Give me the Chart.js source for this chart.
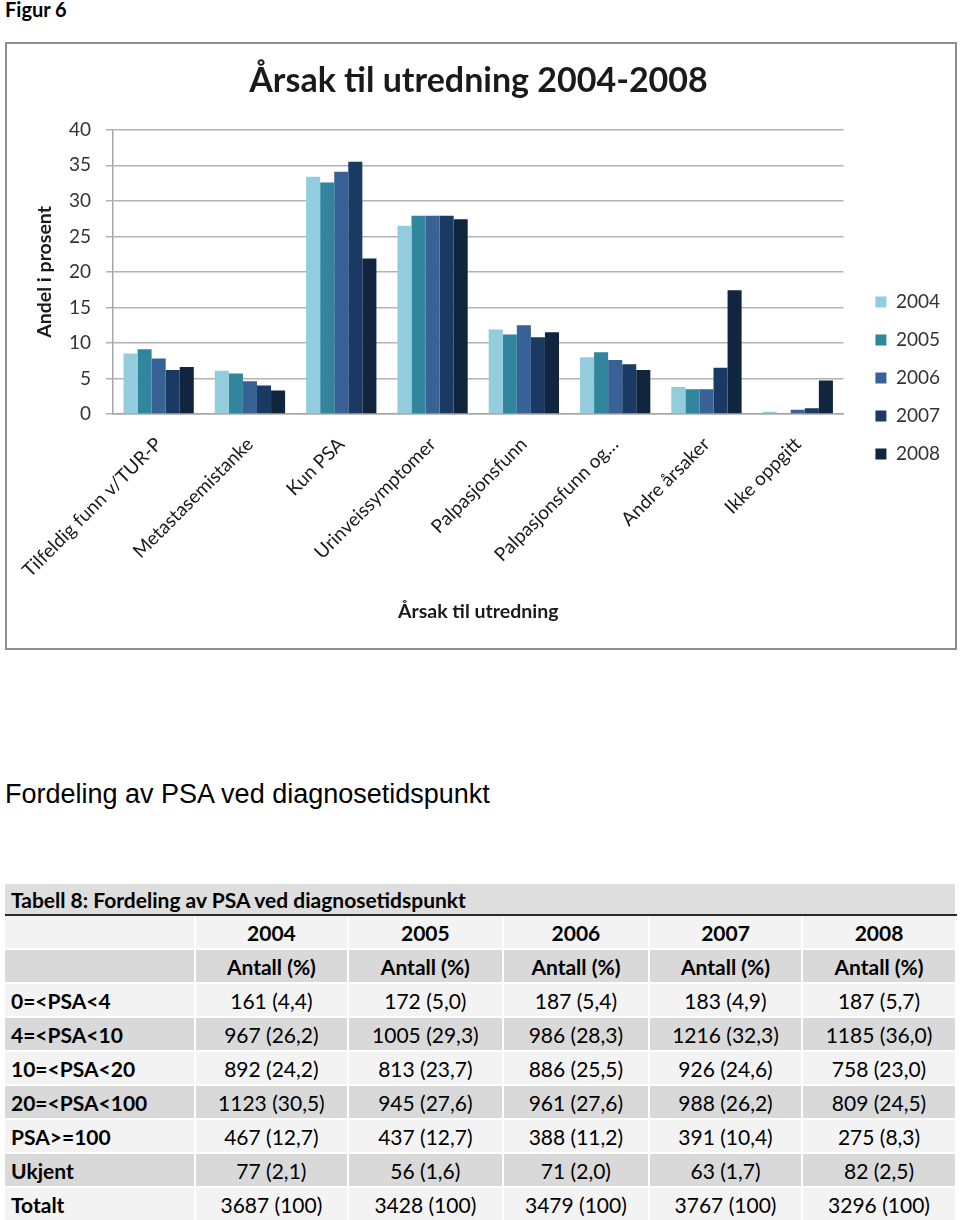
<!DOCTYPE html>
<html>
<head>
<meta charset="utf-8">
<script src="https://cdn.jsdelivr.net/npm/chart.js@4"></script>
<style>
  body { margin: 0; background: #fff; width: 960px; height: 1220px; position: relative; overflow: hidden; font-family: Lato, sans-serif; color: #000; }
  #fig { position: absolute; left: 5px; top: -3px; font-weight: bold; font-size: 20px; }
  #box { position: absolute; left: 5px; top: 42px; width: 948px; height: 604px; border: 2px solid #8e8e8e; }
  #box canvas { display: block; }
  #heading { position: absolute; left: 5px; top: 779px; font-family: "Liberation Sans", Arial, sans-serif; font-size: 27px; }
  table { position: absolute; left: 5px; top: 884px; width: 952px; border-collapse: collapse; font-size: 21px; }
  td { height: 32px; padding: 0; text-align: center; border-left: 2px solid #fff; border-right: 2px solid #fff; border-top: 2px solid #fff; white-space: nowrap; }
  td:first-child { text-align: left; padding-left: 6px; font-weight: bold; border-left: none; }
  tr.title td { text-align: left; font-weight: bold; background: #dedede; border-bottom: 2px solid #2a2a2a; border-top: none; height: 30px; }
  tr.light td { background: #f3f3f3; }
  tr.dark td { background: #d9d9d9; }
  tr.head td { font-weight: bold; }
</style>
</head>
<body>
<div id="fig">Figur 6</div>
<div id="box"><canvas id="chart" width="948" height="604"></canvas></div>
<div id="heading">Fordeling av PSA ved diagnosetidspunkt</div>
<table id="tbl"></table>

<script>
// Chart data (percent)
const categories = ['Tilfeldig funn v/TUR-P', 'Metastasemistanke', 'Kun PSA', 'Urinveissymptomer',
  'Palpasjonsfunn', 'Palpasjonsfunn og…', 'Andre årsaker', 'Ikke oppgitt'];
const years = ['2004', '2005', '2006', '2007', '2008'];
const values2004 = [8.5, 6.1, 33.4, 26.5, 11.9, 8.0, 3.8, 0.3];
const values2005 = [9.1, 5.7, 32.6, 27.9, 11.2, 8.7, 3.5, 0];
const values2006 = [7.8, 4.6, 34.1, 27.9, 12.5, 7.6, 3.5, 0.6];
const values2007 = [6.2, 4.0, 35.5, 27.9, 10.8, 7.0, 6.5, 0.8];
const values2008 = [6.6, 3.3, 21.9, 27.4, 11.5, 6.2, 17.4, 4.7];
const colors = ['#93cddd', '#31859c', '#386195', '#1a3a63', '#11253f'];

// Table 8 data
const tableTitle = 'Tabell 8: Fordeling av PSA ved diagnosetidspunkt';
const psaGroups = ['0=<PSA<4', '4=<PSA<10', '10=<PSA<20', '20=<PSA<100', 'PSA>=100', 'Ukjent', 'Totalt'];
const psa2004 = ['161 (4,4)', '967 (26,2)', '892 (24,2)', '1123 (30,5)', '467 (12,7)', '77 (2,1)', '3687 (100)'];
const psa2005 = ['172 (5,0)', '1005 (29,3)', '813 (23,7)', '945 (27,6)', '437 (12,7)', '56 (1,6)', '3428 (100)'];
const psa2006 = ['187 (5,4)', '986 (28,3)', '886 (25,5)', '961 (27,6)', '388 (11,2)', '71 (2,0)', '3479 (100)'];
const psa2007 = ['183 (4,9)', '1216 (32,3)', '926 (24,6)', '988 (26,2)', '391 (10,4)', '63 (1,7)', '3767 (100)'];
const psa2008 = ['187 (5,7)', '1185 (36,0)', '758 (23,0)', '809 (24,5)', '275 (8,3)', '82 (2,5)', '3296 (100)'];

// Build table
const colWidths = [186, 154, 156, 147, 154, 155];
const cols = [psa2004, psa2005, psa2006, psa2007, psa2008];
const tbl = document.getElementById('tbl');

function addRow(cls, cells) {
  const tr = document.createElement('tr');
  tr.className = cls;
  cells.forEach((txt, i) => {
    const td = document.createElement('td');
    td.textContent = txt;
    if (cls.includes('title')) td.colSpan = 6;
    if (cls.includes('first')) td.style.width = colWidths[i] + 'px';
    tr.appendChild(td);
  });
  tbl.appendChild(tr);
}

addRow('title', [tableTitle]);
addRow('light head first', [''].concat(years));
addRow('dark head', [''].concat(years.map(() => 'Antall (%)')));
psaGroups.forEach((g, r) => {
  addRow(r % 2 ? 'dark' : 'light', [g].concat(cols.map(c => c[r])));
});

// Chart
const allValues = [values2004, values2005, values2006, values2007, values2008];
new Chart(document.getElementById('chart'), {
  type: 'bar',
  data: {
    labels: categories,
    datasets: years.map((y, i) => ({
      label: y,
      data: allValues[i],
      backgroundColor: colors[i],
      borderWidth: 0,
      barPercentage: 1,
      categoryPercentage: 0.77
    }))
  },
  options: {
    responsive: false,
    animation: false,
    layout: { padding: { left: 0, right: 5, top: 0, bottom: 12 } },
    plugins: {
      title: {
        display: true,
        text: 'Årsak til utredning 2004-2008',
        color: '#1a1a1a',
        font: { family: 'Lato', size: 34, weight: 'bold' },
        padding: { top: 17, bottom: 28 }
      },
      legend: {
        position: 'right',
        // empty title only pushes the items down to where they sit in the original
        title: { display: true, text: '', font: { size: 12 }, padding: { top: 0, bottom: 61.6 } },
        labels: {
          boxWidth: 11,
          boxHeight: 11,
          padding: 19,
          color: '#333',
          font: { family: 'Lato', size: 19 }
        }
      },
      tooltip: { enabled: false }
    },
    scales: {
      x: {
        grid: { display: false },
        border: { color: '#a6a6a6', width: 1.5 },
        ticks: {
          color: '#1a1a1a',
          maxRotation: 45,
          minRotation: 45,
          autoSkip: false,
          padding: 11,
          font: { family: 'Lato', size: 19 }
        },
        title: {
          display: true,
          text: 'Årsak til utredning',
          color: '#1a1a1a',
          font: { family: 'Lato', size: 19.5, weight: 'bold' },
          padding: { top: 4, bottom: 13 }
        },
        afterFit: s => { s.height = 222; }
      },
      y: {
        min: 0,
        max: 40,
        ticks: {
          stepSize: 5,
          color: '#333',
          padding: 15,
          font: { family: 'Lato', size: 19 }
        },
        grid: { color: '#b3b3b3', lineWidth: 1.5, tickLength: 7 },
        border: { color: '#a6a6a6', width: 1.5 },
        title: {
          display: true,
          text: 'Andel i prosent',
          color: '#1a1a1a',
          font: { family: 'Lato', size: 19.5, weight: 'bold' },
          padding: { top: 26, bottom: 0 }
        },
        afterFit: s => { s.width = 106; }
      },
      spacer: {
        type: 'linear',
        position: 'right',
        display: true,
        grid: { display: false },
        border: { display: false },
        ticks: { display: false },
        afterFit: s => { s.width = 13; }
      }
    }
  }
});
</script>
</body>
</html>
